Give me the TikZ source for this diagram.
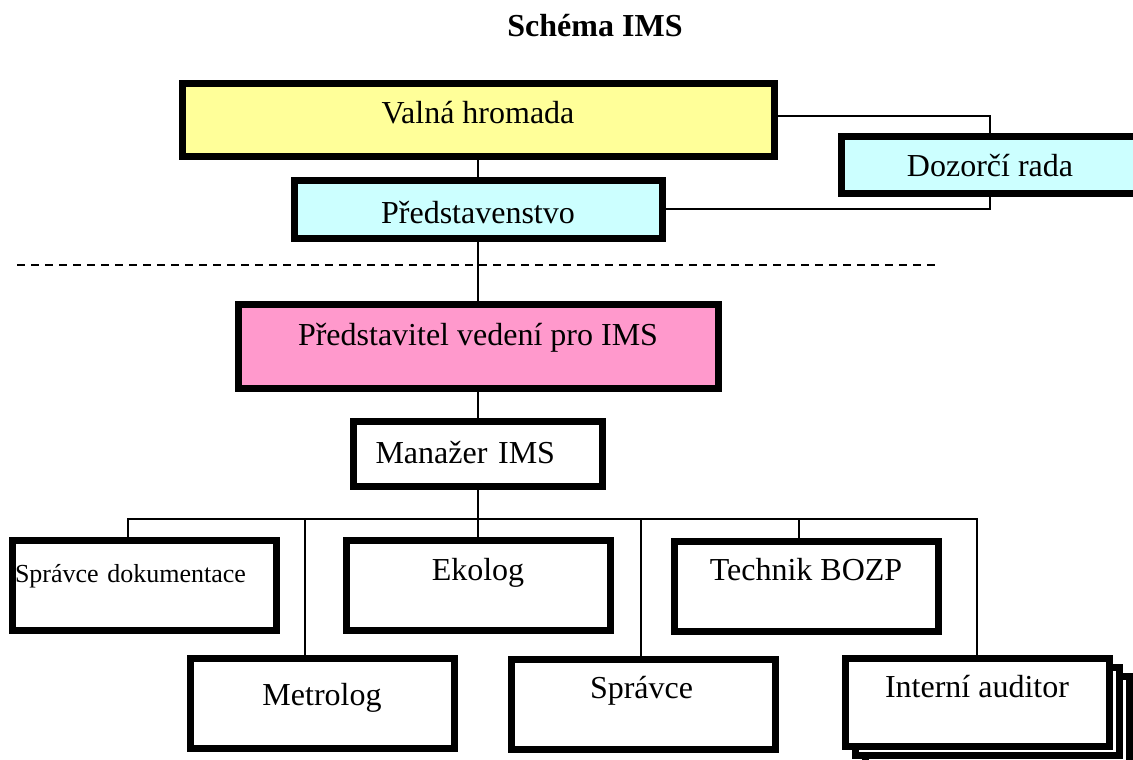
\documentclass[tikz,border=0pt]{standalone}
\usepackage{fontspec}
\setmainfont{Liberation Serif}
\definecolor{valnafill}{HTML}{FFFF99}
\definecolor{dozorfill}{HTML}{CCFFFF}
\definecolor{vedenifill}{HTML}{FF99CC}
\tikzset{
  box/.style={draw, line width=7pt, fill=white, inner sep=0pt,
    font=\fontsize{32}{38}\selectfont, text height=22pt, text depth=#1},
  box/.default=0pt,
  small/.style={box=#1, font=\fontsize{26}{30}\selectfont, text height=18pt},
  link/.style={line width=1.3pt},
  role/.style={box=#1, minimum width=264pt, minimum height=90pt},
}
\begin{document}
\begin{tikzpicture}[x=1pt,y=-1pt]
\useasboundingbox (0,0) rectangle (1133,760);
\node[font=\bfseries\fontsize{32}{38}\selectfont, anchor=base] (title) at (595,37) {Schéma IMS};
% vedeni spolecnosti
\node[box=15pt, fill=valnafill, minimum width=592pt, minimum height=72pt] (valna) at (478,120) {Valná hromada};
\node[box, fill=dozorfill, text height=24pt, minimum width=298pt, minimum height=57pt] (dozor) at (990,164.5) {Dozorčí rada};
\node[box, fill=dozorfill, text height=28pt, minimum width=368pt, minimum height=58pt] (pred) at (478,209) {Představenstvo};
\draw[line width=2pt, dash pattern=on 8pt off 6pt] (17,265) -- (935,265);
\node[box=24pt, fill=vedenifill, minimum width=480pt, minimum height=84pt] (predst) at (478,346) {Představitel vedení pro IMS};
\node[box=3pt, minimum width=249pt, minimum height=65pt, text width=205pt, align=left] (manazer) at (478,453.5) {Manažer IMS};
% role
\node[role=24pt, small=24pt, text width=258pt, align=left] (sprdok) at (144,585) {Správce dokumentace};
\node[role=32pt] (ekolog) at (478,585) {Ekolog};
\node[role=34pt] (technik) at (806,586) {Technik BOZP};
\node[role=18pt] (metro) at (322,703) {Metrolog};
\node[role=34pt, text width=106pt, align=left] (spravce) at (643,704) {Správce};
\node[role, minimum height=88pt] (interniC) at (997,720) {};
\node[role, minimum height=88pt] (interniB) at (987,711) {};
\node[role=32pt, minimum height=88pt] (interni) at (977,702) {Interní auditor};
% spojnice
\draw[link] ([yshift=4pt]valna.east) -| (dozor.north);
\draw[link] (dozor.south) |- (pred.east);
\draw[link] (valna.south) -- (pred.north);
\draw[link] (pred.south) -- (predst.north);
\draw[link] (predst.south) -- (manazer.north);
\coordinate (bus) at (478,519);
\draw[link] (manazer.south) -- (bus);
\draw[link] ([xshift=-16pt]sprdok.north) |- (bus) -| (interni.north);
\foreach \n/\dx in {metro/-17, ekolog/0, spravce/-2, technik/-7}
  \draw[link] ([xshift=\dx pt]\n.north) -- ([xshift=\dx pt]\n.north |- bus);
\end{tikzpicture}
\end{document}
